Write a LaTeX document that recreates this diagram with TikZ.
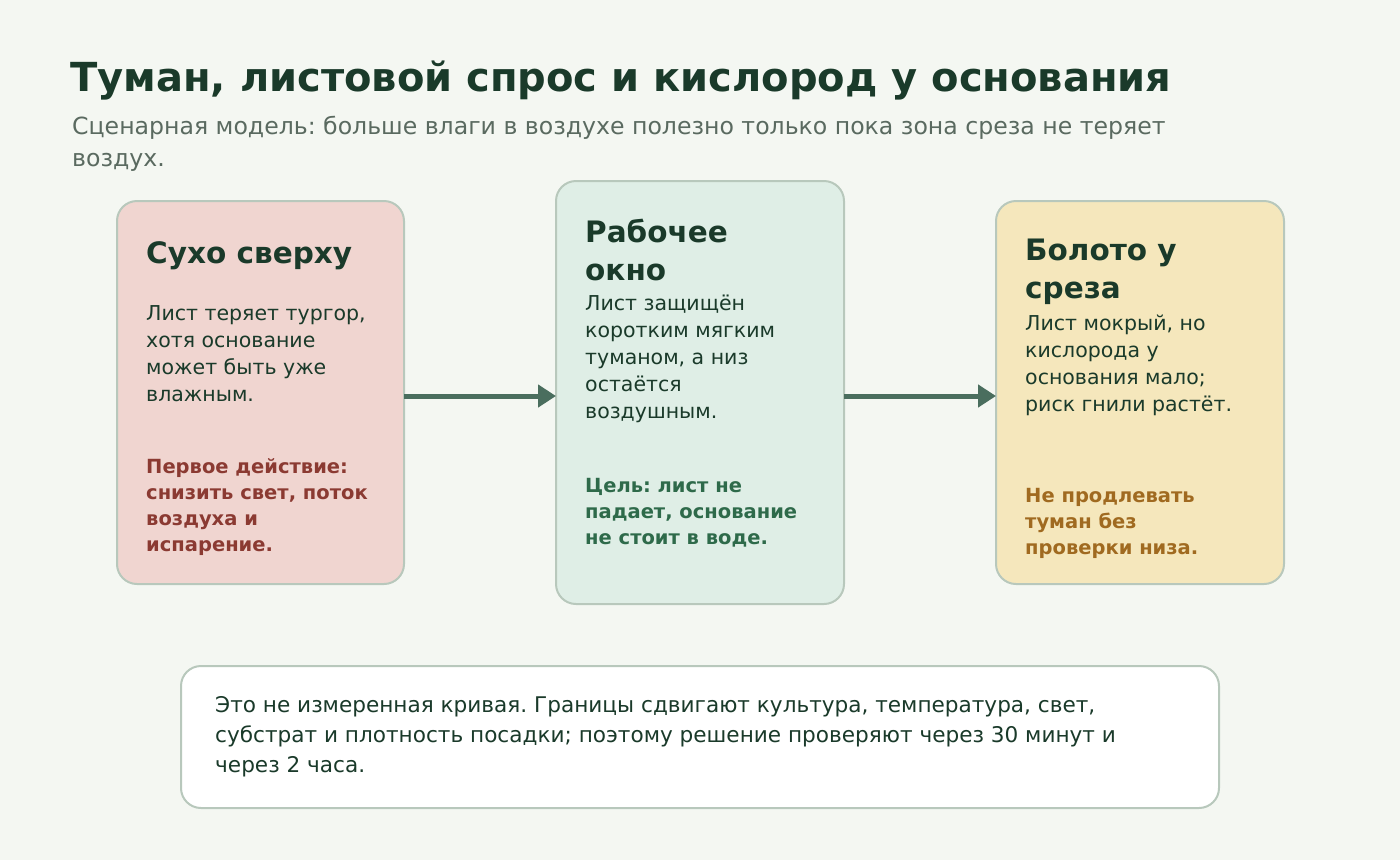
\documentclass[tikz,border=0pt]{standalone}
\usepackage{fontspec}
\setmainfont{DejaVu Sans}
\usetikzlibrary{arrows.meta}
\definecolor{bg}{HTML}{F4F7F2}
\definecolor{pinkc}{HTML}{F0D5D0}
\definecolor{greenc}{HTML}{DFEEE6}
\definecolor{yellowc}{HTML}{F5E7BC}
\definecolor{bord}{HTML}{B8C8BC}
\definecolor{dark}{HTML}{1A3A2A}
\definecolor{sub}{HTML}{5A6A60}
\definecolor{redt}{HTML}{8B3A32}
\definecolor{greent}{HTML}{2E6A4A}
\definecolor{brownt}{HTML}{A06A20}
\definecolor{arr}{HTML}{4A6E5E}
\begin{document}
\frenchspacing
\begin{tikzpicture}[x=1pt,y=-1pt,
 card/.style={draw=bord,line width=2pt,rounded corners=20pt},
 ttl/.style={anchor=north west,inner sep=0,align=left,text=dark,font=\fontsize{29.5}{38}\selectfont\bfseries},
 body/.style={anchor=north west,inner sep=0,align=left,text=dark,font=\fontsize{20.5}{27}\selectfont},
 note/.style={anchor=north west,inner sep=0,align=left,font=\fontsize{19.5}{26}\selectfont\bfseries},
 link/.style={draw=arr,line width=5pt,-{Triangle[length=18pt,width=22pt]}}]
\fill[bg] (0,0) rectangle (1400,860);
\useasboundingbox (0,0) rectangle (1400,860);
\node[anchor=north west,inner sep=0,text=dark,font=\fontsize{40}{46}\selectfont\bfseries] (title) at (70,61) {Туман, листовой спрос и кислород у основания};
\node[anchor=north west,inner sep=0,align=left,text=sub,font=\fontsize{23.6}{32}\selectfont] (subt) at (72,116) {Сценарная модель: больше влаги в воздухе полезно только пока зона среза не теряет\\воздух.};
\draw[card,fill=pinkc] (117,201) rectangle (404,584);
\coordinate (c1e) at (404,396);
\draw[card,fill=greenc] (556,181) rectangle (844,604);
\coordinate (c2w) at (556,396);
\coordinate (c2e) at (844,396);
\draw[card,fill=yellowc] (996,201) rectangle (1284,584);
\coordinate (c3w) at (996,396);
\node[ttl] (t1) at (146,241) {Сухо сверху};
\node[body] (b1) at (146,305) {Лист теряет тургор,\\хотя основание\\может быть уже\\влажным.};
\node[note,text=redt] (n1) at (146,458) {Первое действие:\\снизить свет, поток\\воздуха и\\испарение.};
\node[ttl] (t2) at (585,219) {Рабочее\\окно};
\node[body] (b2) at (585,295) {Лист защищён\\коротким мягким\\туманом, а низ\\остаётся\\воздушным.};
\node[note,text=greent] (n2) at (585,478) {Цель: лист не\\падает, основание\\не стоит в воде.};
\node[ttl] (t3) at (1025,239) {Болото у\\среза};
\node[body] (b3) at (1025,315) {Лист мокрый, но\\кислорода у\\основания мало;\\риск гнили растёт.};
\node[note,text=brownt] (n3) at (1025,488) {Не продлевать\\туман без\\проверки низа.};
\draw[link] (c1e) -- (c2w);
\draw[link] (c2e) -- (c3w);
\draw[card,fill=white] (181,666) rectangle (1219,808);
\node[anchor=north west,inner sep=0,align=left,text=dark,font=\fontsize{21.6}{30}\selectfont] (foot) at (215,696) {Это не измеренная кривая. Границы сдвигают культура, температура, свет,\\субстрат и плотность посадки; поэтому решение проверяют через 30 минут и\\через 2 часа.};
\end{tikzpicture}
\end{document}
